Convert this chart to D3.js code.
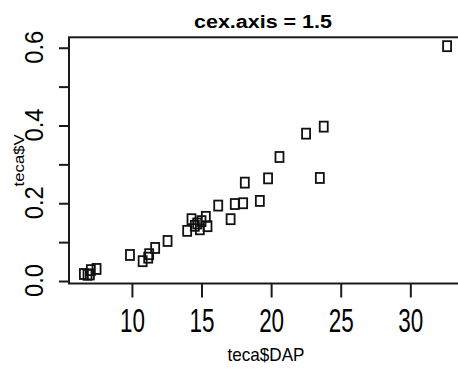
<!DOCTYPE html>
<html>
<head>
<meta charset="utf-8">
<script src="https://cdn.jsdelivr.net/npm/d3@7"></script>
<style>
  html, body { margin: 0; padding: 0; background: #fff; }
  svg { display: block; font-family: Arial, "Liberation Sans", sans-serif; }
</style>
</head>
<body>
<svg id="chart" width="458" height="369"></svg>
<script>
// ---- data ----
const dap = [6.55, 6.81, 6.98, 7.05, 7.46, 9.86, 10.77, 11.17, 11.24, 11.67, 12.56,
             13.97, 14.28, 14.52, 14.69, 14.88, 15.0, 15.31, 15.43, 16.2, 17.09, 17.39,
             17.99, 18.11, 19.19, 19.78, 20.6, 22.51, 23.5, 23.78, 32.64];
const vol = [0.018, 0.016, 0.017, 0.028, 0.031, 0.067, 0.051, 0.060, 0.069, 0.085, 0.103,
             0.129, 0.159, 0.142, 0.148, 0.133, 0.154, 0.165, 0.141, 0.194, 0.159, 0.198,
             0.200, 0.253, 0.206, 0.264, 0.319, 0.379, 0.265, 0.397, 0.604];
const xTicks = [10, 15, 20, 25, 30];
const yTicks = [0.0, 0.1, 0.2, 0.3, 0.4, 0.5, 0.6];
const yTickLabels = [0.0, 0.2, 0.4, 0.6];
const titleText = "cex.axis = 1.5";
const xLabel = "teca$DAP";
const yLabel = "teca$V";

// ---- layout ----
const box = { left: 69, right: 461, top: 37.3, bottom: 283.5 };
const svg = d3.select("#chart");
const ink = "#1a1a1a";

const x = d3.scaleLinear().domain([5.48, 33.64]).range([box.left, box.right]);
const y = d3.scaleLinear().domain([-0.0064, 0.6268]).range([box.bottom, box.top]);

// plot box
svg.append("rect")
  .attr("x", box.left).attr("y", box.top)
  .attr("width", box.right - box.left).attr("height", box.bottom - box.top)
  .attr("fill", "none").attr("stroke", ink).attr("stroke-width", 2);

// x axis
const xAxis = d3.axisBottom(x).tickValues(xTicks).tickSize(14).tickSizeOuter(0).tickFormat(d3.format("d"));
const gx = svg.append("g").attr("transform", `translate(0,${box.bottom})`).call(xAxis);
gx.select(".domain").remove();
gx.selectAll(".tick line").attr("stroke", ink).attr("stroke-width", 2);
gx.selectAll(".tick text")
  .attr("y", 0).attr("dy", 0)
  .attr("transform", "translate(0,48.5)")
  .attr("fill", "#000")
  .style("font-size", "33px")
  .attr("textLength", 25).attr("lengthAdjust", "spacingAndGlyphs");

// y axis (ticks at every 0.1, labels only where R would print them)
const yAxis = d3.axisLeft(y).tickValues(yTicks).tickSize(10).tickSizeOuter(0)
  .tickFormat(d => yTickLabels.includes(d) ? d3.format(".1f")(d) : "");
const gy = svg.append("g").attr("transform", `translate(${box.left},0)`).call(yAxis);
gy.select(".domain").remove();
gy.selectAll(".tick line").attr("stroke", ink).attr("stroke-width", 2);
gy.selectAll(".tick text")
  .attr("x", 0).attr("dy", 0)
  .attr("text-anchor", "middle")
  .attr("transform", "translate(-26,-1) rotate(-90)")
  .attr("fill", "#000")
  .style("font-size", "25px")
  .attr("textLength", 33).attr("lengthAdjust", "spacingAndGlyphs");

// points (open squares, pch = 0)
const sw = 8, sh = 10;
svg.append("g").selectAll("rect").data(dap.map((d, i) => [d, vol[i]])).join("rect")
  .attr("x", d => x(d[0]) - sw / 2)
  .attr("y", d => y(d[1]) - sh / 2)
  .attr("width", sw).attr("height", sh)
  .attr("fill", "none").attr("stroke", "#111").attr("stroke-width", 1.8);

// title
svg.append("text")
  .attr("x", 263).attr("y", 28.3)
  .attr("text-anchor", "middle")
  .attr("font-weight", "bold")
  .style("font-size", "17.5px")
  .attr("textLength", 138).attr("lengthAdjust", "spacingAndGlyphs")
  .text(titleText);

// x label
svg.append("text")
  .attr("x", 266).attr("y", 360.5)
  .attr("text-anchor", "middle")
  .style("font-size", "19px")
  .attr("textLength", 77).attr("lengthAdjust", "spacingAndGlyphs")
  .text(xLabel);

// y label
svg.append("text")
  .attr("transform", `translate(24,${(box.top + box.bottom) / 2}) rotate(-90)`)
  .attr("text-anchor", "middle")
  .style("font-size", "15px")
  .attr("textLength", 52).attr("lengthAdjust", "spacingAndGlyphs")
  .text(yLabel);
</script>
</body>
</html>
